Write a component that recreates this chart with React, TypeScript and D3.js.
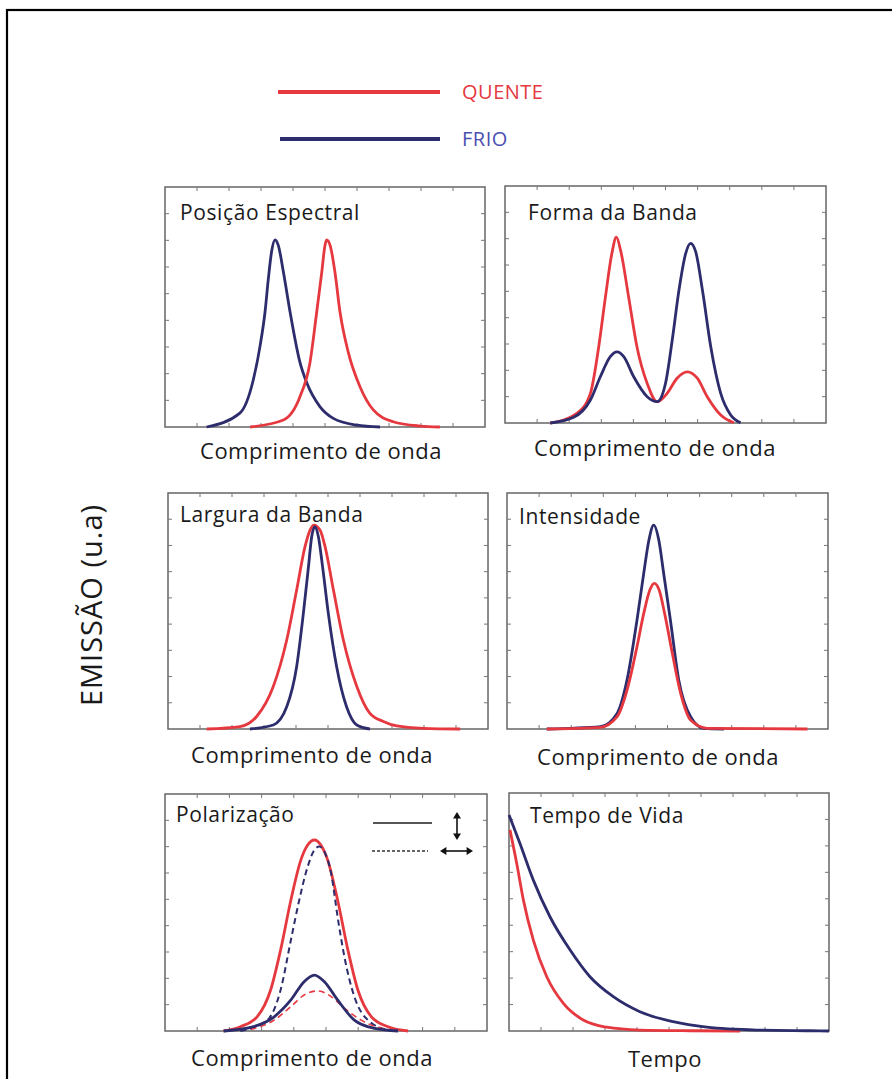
import React from 'react';
import * as d3 from 'd3';

// colours
const QUENTE = '#e5383f';
const FRIO = '#2d2c6c';

// legend entries
const legendLabels = ['QUENTE', 'FRIO'];

// curves, as [x, y] with x in tick units (0-10) and y as fraction of frame height
const espectralFrio: [number, number][] = [
  [1.3, 0], [2.34, 0.058], [2.76, 0.197], [2.97, 0.337], [3.125, 0.478], [3.23, 0.618],
  [3.33, 0.73], [3.44, 0.78], [3.54, 0.757], [3.7, 0.646], [3.91, 0.478], [4.22, 0.268],
  [4.43, 0.184], [4.84, 0.085], [5.26, 0.036], [5.99, 0.008], [6.72, 0],
];
const espectralQuente: [number, number][] = [
  [2.66, 0], [3.7, 0.029], [4.22, 0.127], [4.53, 0.268], [4.74, 0.478], [4.9, 0.646],
  [5.0, 0.757], [5.05, 0.78], [5.16, 0.757], [5.31, 0.646], [5.47, 0.478], [5.73, 0.31],
  [6.09, 0.169], [6.51, 0.071], [7.13, 0.022], [7.97, 0.004], [8.59, 0],
];

const formaQuente: [number, number][] = [
  [1.41, 0], [2.24, 0.041], [2.66, 0.125], [2.92, 0.322], [3.13, 0.533], [3.33, 0.716],
  [3.47, 0.784], [3.61, 0.723], [3.85, 0.533], [4.11, 0.322], [4.43, 0.167], [4.74, 0.09],
  [5.05, 0.125], [5.36, 0.189], [5.68, 0.216], [5.99, 0.189], [6.3, 0.111], [6.72, 0.034],
  [7.13, 0.001],
];
const formaFrio: [number, number][] = [
  [1.41, 0], [2.14, 0.024], [2.66, 0.097], [2.97, 0.195], [3.28, 0.28], [3.49, 0.3],
  [3.7, 0.28], [4.01, 0.195], [4.43, 0.111], [4.74, 0.09], [5.0, 0.167], [5.21, 0.35],
  [5.42, 0.561], [5.63, 0.716], [5.78, 0.758], [5.94, 0.723], [6.15, 0.561], [6.41, 0.322],
  [6.72, 0.125], [7.03, 0.034], [7.34, 0.001],
];

const larguraFrio: [number, number][] = [
  [2.56, 0], [3.29, 0.017], [3.71, 0.094], [4.02, 0.264], [4.23, 0.49], [4.39, 0.688],
  [4.49, 0.815], [4.59, 0.857], [4.7, 0.815], [4.83, 0.688], [5.01, 0.49], [5.27, 0.264],
  [5.58, 0.094], [5.9, 0.017], [6.31, 0],
];
const larguraQuente: [number, number][] = [
  [1.21, 0], [2.25, 0.01], [2.77, 0.053], [3.29, 0.18], [3.71, 0.377], [4.02, 0.589],
  [4.28, 0.772], [4.44, 0.843], [4.56, 0.864], [4.75, 0.843], [4.91, 0.772], [5.17, 0.589],
  [5.48, 0.377], [5.9, 0.18], [6.31, 0.066], [6.73, 0.032], [7.15, 0.013], [7.98, 0.003],
  [9.13, 0],
];

const intensidadeFrio: [number, number][] = [
  [1.24, 0], [2.91, 0.01], [3.43, 0.066], [3.74, 0.208], [4.05, 0.462], [4.26, 0.66],
  [4.42, 0.8], [4.57, 0.864], [4.73, 0.8], [4.88, 0.66], [5.09, 0.462], [5.35, 0.208],
  [5.72, 0.052], [6.13, 0.003], [6.76, 0],
];
const intensidadeQuente: [number, number][] = [
  [1.24, 0], [2.91, 0.007], [3.43, 0.052], [3.74, 0.165], [4.05, 0.349], [4.26, 0.49],
  [4.45, 0.589], [4.59, 0.617], [4.74, 0.589], [4.91, 0.49], [5.15, 0.321], [5.41, 0.151],
  [5.72, 0.038], [6.24, 0.003], [9.36, 0],
];

const polQuenteVert: [number, number][] = [
  [1.82, 0], [2.34, 0.018], [2.86, 0.06], [3.28, 0.173], [3.59, 0.342], [3.91, 0.553],
  [4.22, 0.722], [4.43, 0.785], [4.64, 0.806], [4.84, 0.785], [5.05, 0.722], [5.36, 0.553],
  [5.68, 0.342], [5.99, 0.173], [6.41, 0.06], [6.93, 0.018], [7.55, 0],
];
const polFrioHoriz: [number, number][] = [
  [2.34, 0], [3.18, 0.046], [3.59, 0.173], [3.91, 0.384], [4.17, 0.553], [4.43, 0.693],
  [4.64, 0.764], [4.79, 0.778], [4.95, 0.757], [5.16, 0.665], [5.36, 0.482], [5.57, 0.314],
  [5.88, 0.145], [6.3, 0.046], [6.93, 0.004],
];
const polFrioVert: [number, number][] = [
  [1.82, 0], [2.66, 0.015], [3.39, 0.06], [3.91, 0.131], [4.32, 0.208], [4.64, 0.236],
  [4.95, 0.208], [5.36, 0.131], [5.88, 0.046], [6.51, 0.011], [7.24, 0],
];
const polQuenteHoriz: [number, number][] = [
  [2.66, 0.007], [3.39, 0.046], [3.91, 0.103], [4.32, 0.152], [4.74, 0.169], [5.16, 0.145],
  [5.57, 0.096], [6.09, 0.046], [6.72, 0.011], [7.24, 0],
];

const vidaFrio: [number, number][] = [
  [0, 0.908], [0.34, 0.789], [0.76, 0.634], [1.28, 0.48], [1.91, 0.34], [2.53, 0.228],
  [3.26, 0.144], [4.09, 0.081], [5.13, 0.039], [6.18, 0.016], [7.74, 0.004], [9.41, 0.001],
  [10, 0],
];
const vidaQuente: [number, number][] = [
  [0.03, 0.845], [0.24, 0.705], [0.45, 0.55], [0.76, 0.382], [1.18, 0.228], [1.7, 0.116],
  [2.32, 0.046], [3.05, 0.016], [4.09, 0.004], [5.66, 0.001], [7.22, 0],
];

const panelTitles = [
  'Posição Espectral', 'Forma da Banda', 'Largura da Banda',
  'Intensidade', 'Polarização', 'Tempo de Vida',
];
const axisLabels = [
  'Comprimento de onda', 'Comprimento de onda', 'Comprimento de onda',
  'Comprimento de onda', 'Comprimento de onda', 'Tempo',
];
const yLabel = 'EMISSÃO (u.a)';

const xTicks = d3.range(1, 10);
const yTicks = d3.range(1, 9).map((i) => i / 9);

type Series = { pts: [number, number][]; color: string; dash?: string; width?: number };

const font = "'Open Sans', sans-serif";

const Panel = ({
  x, y, w, h, title, label, tx, ty, lx, ly, series, children,
}: {
  x: number; y: number; w: number; h: number; title: string; label: string;
  tx: number; ty: number; lx: number; ly: number; series: Series[]; children?: React.ReactNode;
}) => {
  const xs = d3.scaleLinear().domain([0, 10]).range([x, x + w]);
  const ys = d3.scaleLinear().domain([0, 1]).range([y + h, y]);
  const line = d3.line<[number, number]>()
    .x((d) => xs(d[0]))
    .y((d) => ys(d[1]))
    .curve(d3.curveMonotoneX);
  const tl = 4;
  return (
    <g>
      <rect x={x} y={y} width={w} height={h} fill="white" stroke="#666" strokeWidth={1.5} />
      {xTicks.map((t) => (
        <g key={'x' + t} stroke="#777" strokeWidth={1}>
          <line x1={xs(t)} x2={xs(t)} y1={y + h} y2={y + h - tl} />
          <line x1={xs(t)} x2={xs(t)} y1={y} y2={y + tl} />
        </g>
      ))}
      {yTicks.map((t) => (
        <g key={'y' + t} stroke="#777" strokeWidth={1}>
          <line x1={x} x2={x + tl} y1={ys(t)} y2={ys(t)} />
          <line x1={x + w} x2={x + w - tl} y1={ys(t)} y2={ys(t)} />
        </g>
      ))}
      {series.map((s, i) => (
        <path key={i} d={line(s.pts) || ''} fill="none" stroke={s.color}
          strokeWidth={s.width ?? 2.8} strokeDasharray={s.dash} strokeLinejoin="round" />
      ))}
      <text x={tx} y={ty} dy="0.35em" fontFamily={font} fontSize={21} letterSpacing={0.6} fill="#1a1a1a">{title}</text>
      <text x={lx} y={ly} dy="0.35em" textAnchor="middle" fontFamily={font} fontSize={22} letterSpacing={0.5} fill="#1a1a1a">{label}</text>
      {children}
    </g>
  );
};

const arrowHead = (x: number, y: number, dir: 'up' | 'down' | 'left' | 'right') => {
  const s = 4;
  const pts = {
    up: [[x, y], [x - s, y + s * 1.6], [x + s, y + s * 1.6]],
    down: [[x, y], [x - s, y - s * 1.6], [x + s, y - s * 1.6]],
    left: [[x, y], [x + s * 1.6, y - s], [x + s * 1.6, y + s]],
    right: [[x, y], [x - s * 1.6, y - s], [x - s * 1.6, y + s]],
  }[dir];
  return <polygon points={pts.map((p) => p.join(',')).join(' ')} fill="#111" />;
};

export default function App() {
  return (
    <svg width={892} height={1079} style={{ position: 'absolute', left: 0, top: 0, background: 'white' }}>
      <rect x={7} y={10} width={900} height={1100} fill="white" stroke="black" strokeWidth={2.2} />

      {/* legend */}
      <line x1={278} x2={440} y1={92} y2={92} stroke={QUENTE} strokeWidth={4} />
      <text x={462} y={92} dy="0.35em" fontFamily={font} fontSize={20} letterSpacing={0.5} fill={QUENTE}>{legendLabels[0]}</text>
      <line x1={280} x2={440} y1={139} y2={139} stroke={FRIO} strokeWidth={4} />
      <text x={462} y={139} dy="0.35em" fontFamily={font} fontSize={20} letterSpacing={0.5} fill="#4b50b0">{legendLabels[1]}</text>

      <text transform="translate(92,605) rotate(-90)" textAnchor="middle" dy="0.35em"
        fontFamily={font} fontSize={29} letterSpacing={1} fill="#1a1a1a">{yLabel}</text>

      <Panel x={165} y={187} w={320} h={240} title={panelTitles[0]} label={axisLabels[0]}
        tx={180} ty={213} lx={321} ly={451}
        series={[{ pts: espectralFrio, color: FRIO }, { pts: espectralQuente, color: QUENTE }]} />
      <Panel x={505} y={186} w={321} h={237} title={panelTitles[1]} label={axisLabels[1]}
        tx={528} ty={213} lx={655} ly={448}
        series={[{ pts: formaQuente, color: QUENTE }, { pts: formaFrio, color: FRIO }]} />
      <Panel x={168} y={493} w={320} h={236} title={panelTitles[2]} label={axisLabels[2]}
        tx={180} ty={515} lx={312} ly={755}
        series={[{ pts: larguraQuente, color: QUENTE }, { pts: larguraFrio, color: FRIO }]} />
      <Panel x={507} y={493} w={321} h={236} title={panelTitles[3]} label={axisLabels[3]}
        tx={519} ty={517} lx={658} ly={757}
        series={[{ pts: intensidadeFrio, color: FRIO }, { pts: intensidadeQuente, color: QUENTE }]} />
      <Panel x={165} y={794} w={322} h={237} title={panelTitles[4]} label={axisLabels[4]}
        tx={176} ty={815} lx={312} ly={1058}
        series={[
          { pts: polQuenteVert, color: QUENTE },
          { pts: polFrioHoriz, color: FRIO, dash: '6,4', width: 2 },
          { pts: polQuenteHoriz, color: QUENTE, dash: '6,4', width: 1.6 },
          { pts: polFrioVert, color: FRIO },
        ]}>
        <line x1={373} x2={432} y1={823} y2={823} stroke="#555" strokeWidth={2} />
        <line x1={372} x2={428} y1={851} y2={851} stroke="#333" strokeWidth={1.5} strokeDasharray="3,2" />
        <line x1={457} x2={457} y1={816} y2={836} stroke="#111" strokeWidth={1.6} />
        {arrowHead(457, 812, 'up')}
        {arrowHead(457, 840, 'down')}
        <line x1={444} x2={469} y1={851} y2={851} stroke="#111" strokeWidth={1.6} />
        {arrowHead(440, 851, 'left')}
        {arrowHead(473, 851, 'right')}
      </Panel>
      <Panel x={509} y={793} w={320} h={238} title={panelTitles[5]} label={axisLabels[5]}
        tx={530} ty={816} lx={665} ly={1059}
        series={[{ pts: vidaQuente, color: QUENTE }, { pts: vidaFrio, color: FRIO }]} />
    </svg>
  );
}
